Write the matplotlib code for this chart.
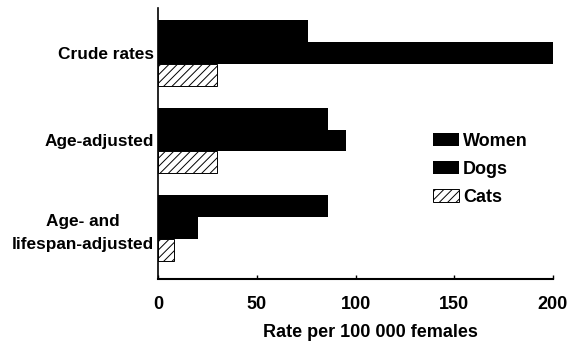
import numpy as np
import matplotlib
matplotlib.use('Agg')
import matplotlib.pyplot as plt

plt.rcParams['font.family'] = ['Liberation Sans', 'DejaVu Sans']
plt.rcParams['hatch.linewidth'] = 0.7

# data
groups = ['Crude rates', 'Age-adjusted', 'Age- and\nlifespan-adjusted']
women = [76, 86, 86]
dogs = [200, 95, 20]
cats = [30, 30, 8]
xticks = [0, 50, 100, 150, 200]

fs = 13

fig = plt.figure(figsize=(5.8, 3.44), dpi=100)
ax = fig.add_axes([158/580, 1-279/344, (553-158)/580, (279-8)/344])

y = np.arange(len(groups))[::-1]
h = 0.25
ax.barh(y + h, women, height=h, color='black', label='Women')
ax.barh(y, dogs, height=h, color='black', label='Dogs')
ax.barh(y - h, cats, height=h, color='white', edgecolor='black',
        hatch='////', linewidth=0.7, label='Cats')

ax.set_xlim(0, 200)
ax.set_ylim(-0.583, 2.514)
ax.set_xticks(xticks)
ax.set_xticklabels([str(t) for t in xticks], fontsize=fs, fontweight='bold')
ax.tick_params(axis='x', direction='in', length=3, width=1, pad=12)
ax.set_yticks(y)
ax.set_yticklabels(groups, fontsize=12.4, fontweight='bold', linespacing=1.65,
                   multialignment='center')
ax.tick_params(axis='y', length=0, pad=3)
ax.set_xlabel('Rate per 100 000 females', fontsize=fs, fontweight='bold', labelpad=11)
ax.xaxis.set_label_coords(0.537, -0.165)

for s in ['top', 'right']:
    ax.spines[s].set_visible(False)
ax.spines['left'].set_linewidth(1.2)
ax.spines['bottom'].set_linewidth(1.5)

leg = ax.legend(loc='upper left', bbox_to_anchor=(433/580, 1-133/344),
                bbox_transform=fig.transFigure, frameon=False,
                prop={'size': fs, 'weight': 'bold'},
                handlelength=1.45, handleheight=0.7, handletextpad=0.2,
                labelspacing=0.6, borderpad=0, borderaxespad=0)

fig.savefig('out.png', dpi=100)
